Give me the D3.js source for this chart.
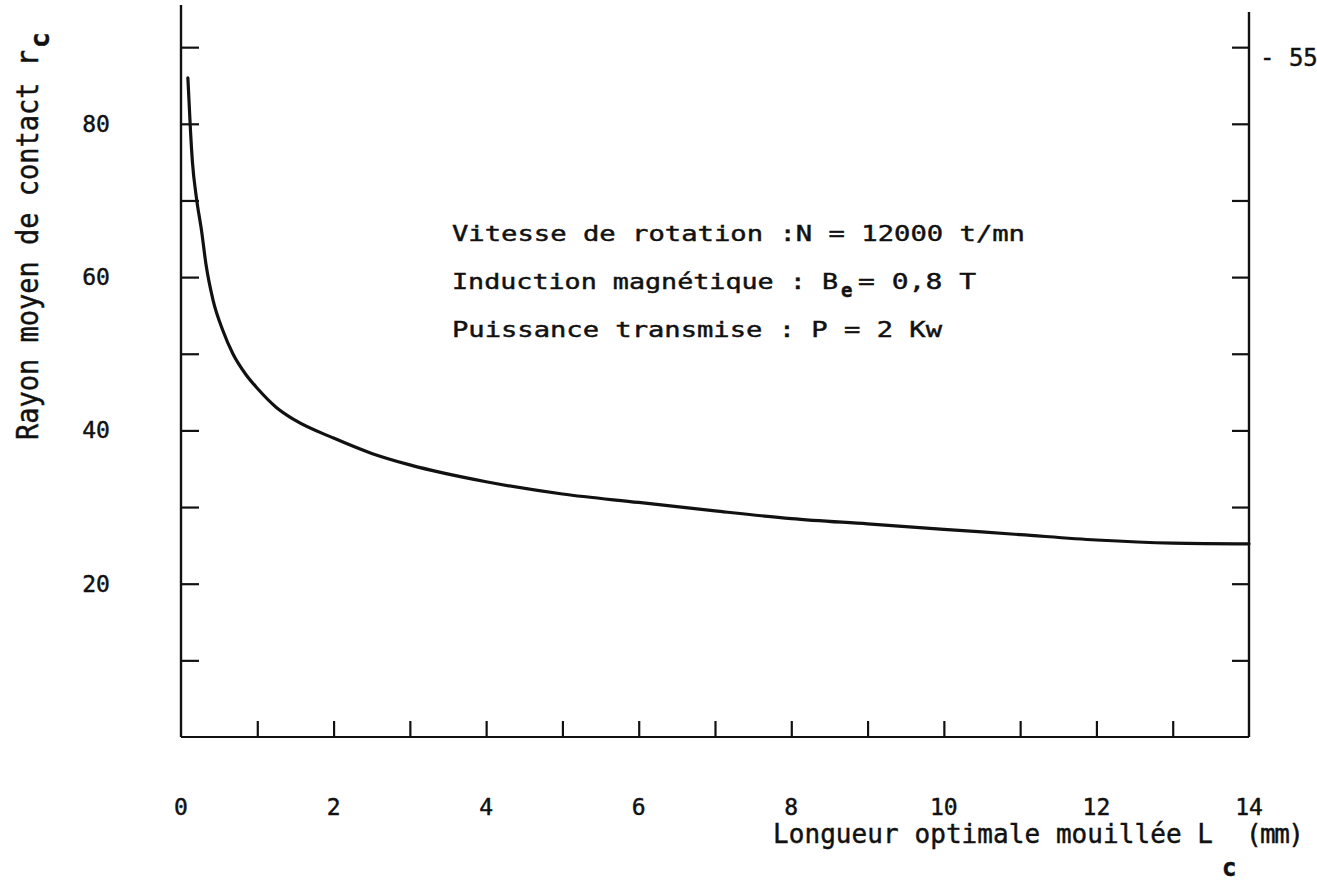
<!DOCTYPE html>
<html><head><meta charset="utf-8">
<script src="https://cdn.jsdelivr.net/npm/d3@7"></script>
<style>
body{margin:0;background:#fff}
svg{display:block;background:#fff}
text{font-family:"DejaVu Sans Mono","Liberation Mono",monospace;fill:#111;stroke:#111;stroke-width:0.45}
</style>
</head><body>
<svg id="chart" width="1317" height="882"></svg>
<script>
// ---- data ----
const lengthMM = [0.09, 0.11, 0.125, 0.15, 0.2, 0.27, 0.33, 0.42, 0.55, 0.68, 0.85, 1.0, 1.25, 1.5, 2.0, 2.5, 3.0, 4.0, 5.0, 6.0, 7.0, 8.0, 9.0, 10.0, 11.0, 12.0, 13.0, 14.0];
const radiusMM = [86, 82, 79, 75, 70.5, 66, 61.5, 57, 53, 50, 47.3, 45.5, 43, 41.3, 39, 37, 35.5, 33.3, 31.7, 30.6, 29.5, 28.5, 27.8, 27.1, 26.4, 25.7, 25.3, 25.2];
const xMinorTicks = [1,2,3,4,5,6,7,8,9,10,11,12,13];
const xTickLabels = [0,2,4,6,8,10,12,14];
const yMinorTicks = [10,20,30,40,50,60,70,80,90];
const yTickLabels = [20,40,60,80];
const rightTickLabel = "- 55";
const annotationLines = [
  ["Vitesse de rotation :N = 12000 t/mn"],
  ["Induction magnétique : B", "e", "= 0,8 T"],
  ["Puissance transmise : P = 2 Kw"]
];
const xTitle = ["Longueur optimale mouillée L", "c", "(mm)"];
const yTitle = ["Rayon moyen de contact r", "c"];

// ---- scales ----
const svg = d3.select("#chart");
const x = d3.scaleLinear().domain([0, 14]).range([181, 1249]);
const y = d3.scaleLinear().domain([0, 95.5]).range([737, 5]);

// ---- axes lines ----
const g = svg.append("g");
g.append("line").attr("x1", x(0)).attr("x2", x(0)).attr("y1", y(0)).attr("y2", y(95.5))
  .attr("stroke", "#111").attr("stroke-width", 2.4);
g.append("line").attr("x1", x(14)).attr("x2", x(14)).attr("y1", y(0)).attr("y2", y(94.6))
  .attr("stroke", "#111").attr("stroke-width", 2.4);
g.append("line").attr("x1", x(0)).attr("x2", x(14)).attr("y1", y(0)).attr("y2", y(0))
  .attr("stroke", "#111").attr("stroke-width", 2.2);

// left ticks (inward)
const leftAxis = svg.append("g").attr("transform", `translate(${x(0)},0)`)
  .call(d3.axisRight(y).tickValues(yMinorTicks).tickSize(18).tickFormat(""));
// right ticks (inward)
const rightAxis = svg.append("g").attr("transform", `translate(${x(14)},0)`)
  .call(d3.axisLeft(y).tickValues(yMinorTicks).tickSize(17).tickFormat(""));
// bottom ticks (upward)
const bottomAxis = svg.append("g").attr("transform", `translate(0,${y(0)})`)
  .call(d3.axisTop(x).tickValues(xMinorTicks).tickSize(16).tickFormat(""));
[leftAxis, rightAxis, bottomAxis].forEach(a => {
  a.select(".domain").remove();
  a.selectAll(".tick line").attr("stroke", "#111").attr("stroke-width", 2.2);
});

// tick labels
svg.append("g").selectAll("text").data(xTickLabels).join("text")
  .attr("x", d => x(d)).attr("y", 815).attr("text-anchor", "middle")
  .attr("font-size", 23).text(d => d);
svg.append("g").selectAll("text").data(yTickLabels).join("text")
  .attr("x", 96).attr("y", d => y(d) + 8).attr("text-anchor", "middle")
  .attr("font-size", 23).text(d => d);
svg.append("text").attr("x", 1260).attr("y", y(90) + 19)
  .attr("font-size", 24).attr("xml:space", "preserve").text(rightTickLabel);

// curve
const pts = lengthMM.map((d, i) => [d, radiusMM[i]]);
svg.append("path").datum(pts)
  .attr("fill", "none").attr("stroke", "#111").attr("stroke-width", 3.2)
  .attr("stroke-linejoin", "round").attr("stroke-linecap", "round")
  .attr("d", d3.line().x(d => x(d[0])).y(d => y(d[1])).curve(d3.curveMonotoneX));

// annotation
const ann = svg.append("g");
ann.append("text").attr("x", 452).attr("y", 241).attr("font-size", 21.5)
  .attr("textLength", 573).attr("lengthAdjust", "spacingAndGlyphs").text(annotationLines[0][0]);
ann.append("text").attr("x", 452).attr("y", 289).attr("font-size", 21.5)
  .attr("textLength", 386).attr("lengthAdjust", "spacingAndGlyphs").text(annotationLines[1][0]);
ann.append("text").attr("x", 841).attr("y", 297).attr("font-size", 19).attr("font-weight", "bold")
  .text(annotationLines[1][1]);
ann.append("text").attr("x", 858).attr("y", 289).attr("font-size", 21.5)
  .attr("textLength", 118).attr("lengthAdjust", "spacingAndGlyphs").text(annotationLines[1][2]);
ann.append("text").attr("x", 452).attr("y", 337).attr("font-size", 21.5)
  .attr("textLength", 490).attr("lengthAdjust", "spacingAndGlyphs").text(annotationLines[2][0]);

// x title
svg.append("text").attr("x", 773).attr("y", 843).attr("font-size", 26)
  .attr("textLength", 440).attr("lengthAdjust", "spacing").text(xTitle[0]);
svg.append("text").attr("x", 1222).attr("y", 876).attr("font-size", 24).attr("font-weight", "bold")
  .text(xTitle[1]);
svg.append("text").attr("x", 1246).attr("y", 843).attr("font-size", 26)
  .attr("textLength", 58).attr("lengthAdjust", "spacing").text(xTitle[2]);

// y title (rotated)
svg.append("text").attr("transform", "translate(38,440) rotate(-90)")
  .attr("font-size", 30).attr("textLength", 390).attr("lengthAdjust", "spacingAndGlyphs")
  .text(yTitle[0]);
svg.append("text").attr("transform", "translate(49,48) rotate(-90)")
  .attr("font-size", 26).attr("font-weight", "bold").text(yTitle[1]);
</script>
</body></html>
